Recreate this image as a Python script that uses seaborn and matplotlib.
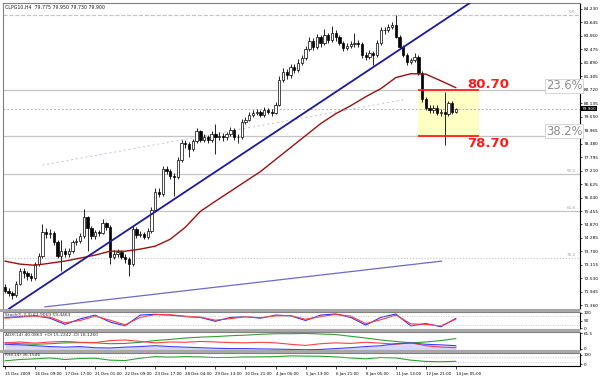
import seaborn as sns
import matplotlib.pyplot as plt
from matplotlib.patches import Rectangle

# chart data
title_text = "CLPG10,H4  79.775 79.950 79.730 79.900"
time_labels = ["15 Dec 2009", "16 Dec 09:00", "17 Dec 17:00", "21 Dec 01:00",
               "22 Dec 09:00", "23 Dec 17:00", "28 Dec 04:00", "29 Dec 13:00",
               "30 Dec 21:00", "4 Jan 05:00", "5 Jan 13:00", "6 Jan 21:00",
               "8 Jan 05:00", "11 Jan 13:00", "12 Jan 21:00", "14 Jan 05:00"]

first_open = 72.15
closes = [72.00, 71.90, 71.80, 72.30, 72.85, 72.75, 72.62, 72.55, 73.15, 73.50,
          74.55, 74.45, 74.50, 74.10, 73.50, 73.70, 73.58, 73.70, 74.10, 74.15,
          74.35, 75.18, 74.70, 74.35, 74.55, 74.50, 74.93, 74.76, 73.45, 73.58,
          73.67, 73.45, 73.36, 73.15, 74.66, 74.40, 74.45, 74.33, 74.58, 75.50,
          76.30, 76.20, 77.26, 77.18, 76.97, 76.92, 77.69, 78.43, 78.35, 78.13,
          78.48, 78.91, 78.56, 78.65, 78.52, 78.82, 78.69, 78.73, 78.65, 78.78,
          78.99, 78.69, 78.65, 79.34, 79.42, 79.64, 79.73, 79.77, 79.64, 79.86,
          79.77, 79.73, 80.07, 81.16, 81.50, 81.35, 81.70, 81.60, 81.90, 82.10,
          82.50, 82.85, 82.60, 83.00, 82.75, 83.10, 82.90, 83.20, 83.00, 82.76,
          82.54, 82.63, 82.72, 82.76, 82.70, 82.24, 82.15, 82.33, 82.24, 82.76,
          83.32, 83.30, 83.45, 83.54, 83.02, 82.59, 82.24, 81.94, 82.02, 82.15,
          81.45, 80.30, 79.95, 79.85, 79.95, 79.73, 79.75, 79.65, 80.15, 79.775,
          79.90]
highs = [72.30, 72.10, 71.98, 72.42, 73.00, 72.98, 72.85, 72.75, 73.25, 73.62,
         74.88, 74.70, 74.68, 74.60, 74.20, 74.20, 73.85, 73.85, 74.20, 74.30,
         74.50, 75.53, 75.25, 74.80, 74.65, 74.62, 75.10, 75.00, 74.85, 73.75,
         73.80, 73.75, 73.60, 73.45, 74.80, 74.75, 74.58, 74.55, 74.70, 75.62,
         76.45, 76.45, 77.40, 77.40, 77.30, 77.10, 77.80, 78.55, 78.55, 78.45,
         78.60, 79.05, 78.98, 78.80, 78.75, 78.95, 79.25, 78.88, 78.85, 78.90,
         79.10, 79.05, 78.80, 79.45, 79.55, 79.75, 79.85, 79.90, 79.85, 79.98,
         79.95, 79.88, 80.18, 81.30, 81.65, 81.62, 81.85, 81.82, 82.05, 82.25,
         82.62, 83.00, 82.95, 83.15, 83.10, 83.35, 83.20, 83.50, 83.30, 83.10,
         82.85, 82.75, 82.85, 83.20, 82.88, 82.80, 82.35, 82.45, 82.40, 82.88,
         83.45, 83.45, 83.58, 83.68, 83.97, 83.10, 82.68, 82.30, 82.12, 82.30,
         82.22, 81.55, 80.40, 80.05, 80.08, 80.05, 79.88, 80.64, 80.25, 80.22,
         79.95]
lows = [71.88, 71.75, 71.62, 71.72, 72.25, 72.55, 72.48, 72.40, 72.45, 73.05,
        73.42, 74.30, 74.30, 74.00, 73.40, 72.85, 73.45, 73.45, 73.62, 74.00,
        74.05, 74.28, 73.70, 74.25, 74.25, 74.38, 74.45, 74.65, 73.15, 73.35,
        73.48, 73.35, 73.20, 72.62, 73.05, 74.30, 74.32, 74.22, 74.25, 74.50,
        75.42, 76.05, 76.10, 77.05, 76.85, 76.10, 76.85, 77.60, 78.20, 77.82,
        78.05, 78.40, 78.45, 78.45, 78.40, 78.45, 77.95, 78.55, 78.50, 78.55,
        78.70, 78.55, 78.40, 78.60, 79.25, 79.35, 79.55, 79.62, 79.52, 79.55,
        79.65, 79.60, 79.65, 80.00, 81.05, 81.20, 81.25, 81.45, 81.50, 81.80,
        82.00, 82.40, 82.45, 82.50, 82.60, 82.65, 82.75, 82.80, 82.85, 82.65,
        82.40, 82.45, 82.55, 82.60, 82.58, 82.10, 82.00, 82.05, 81.80, 82.15,
        82.68, 83.15, 83.22, 83.35, 82.95, 82.50, 82.15, 81.80, 81.85, 81.92,
        81.35, 80.20, 79.85, 79.72, 79.70, 79.62, 79.60, 78.34, 79.58, 79.68,
        79.73]

# moving average and indicators, sampled every 4 bars
sample_bars = list(range(0, 121, 4))
ma_vals = [73.28, 73.15, 73.10, 73.19, 73.28, 73.41, 73.54, 73.71, 73.71, 73.80,
           73.93, 74.23, 74.75, 75.44, 75.88, 76.31, 76.74, 77.17, 77.69, 78.21,
           78.73, 79.25, 79.68, 80.03, 80.42, 80.77, 81.25, 81.42, 81.40, 81.11,
           80.81]
stoch_main = [70, 75, 80, 65, 25, 60, 85, 40, 15, 85, 90, 85, 75, 70, 45, 70,
              75, 65, 85, 80, 50, 85, 92, 70, 20, 70, 92, 15, 30, 10, 64]
stoch_signal = [65, 72, 78, 72, 35, 50, 78, 52, 22, 70, 88, 87, 78, 72, 52, 62,
                74, 68, 80, 82, 58, 75, 90, 78, 30, 55, 85, 28, 25, 15, 59]
adx_main = [25, 22, 20, 22, 25, 26, 25, 22, 23, 27, 33, 37, 42, 45, 47, 50,
            52, 55, 57, 57, 58, 56, 54, 48, 42, 35, 30, 25, 28, 33, 40]
adx_red = [25, 28, 24, 28, 30, 27, 26, 33, 35, 30, 25, 28, 27, 30, 28, 26,
           25, 27, 25, 20, 16, 22, 25, 23, 27, 24, 20, 25, 15, 10, 8]
adx_blue = [20, 18, 15, 12, 10, 12, 8, 7, 10, 12, 15, 12, 10, 8, 6, 5,
            5, 4, 3, 2, 1, 2, 5, 8, 12, 15, 22, 25, 20, 18, 15]
rsi_vals = [40, 50, 55, 62, 50, 58, 60, 45, 42, 60, 72, 68, 72, 70, 65, 66,
            70, 70, 72, 78, 76, 75, 70, 62, 55, 65, 62, 45, 35, 33, 36]

# drawn objects
trend_x, trend_y = [1.0, 123.7], [71.20, 84.49]
trend2_x, trend2_y = [10.6, 116.2], [71.29, 73.28]
diag_x, diag_y = [10, 106], [77.45, 80.29]
fib_names = ["0.0", "23.6", "38.2", "50.0", "61.8", "76.4"]
fib_prices = [83.95, 80.70, 78.70, 77.07, 75.44, 73.43]
fib_styles = ["--", "-", "-", "-", "-", ":"]
bid_price = 79.90
box_top, box_bottom = 80.70, 78.70
ytick_vals = [84.230, 83.645, 83.060, 82.475, 81.890, 81.305, 80.720, 80.135,
              79.550, 78.965, 78.380, 77.795, 77.210, 76.625, 76.040, 75.455,
              74.870, 74.285, 73.700, 73.115, 72.530, 71.945, 71.360]

sns.set_theme(style="white")
plt.rcParams['font.family'] = ['DejaVu Sans']

W, H = 600, 376
fig = plt.figure(figsize=(6, 3.76), dpi=100)
fig.patch.set_facecolor("white")


def box(top, bottom, left=3, right=580):
    return [left / W, 1 - bottom / H, (right - left) / W, (bottom - top) / H]


ax = fig.add_axes(box(3, 309))
ax_st = fig.add_axes(box(312, 329))
ax_adx = fig.add_axes(box(332, 350))
ax_rsi = fig.add_axes(box(353, 366))
xlim = (-0.5, 153)

# --- main price window ---
bars = list(range(len(closes)))
opens = [first_open] + closes[:-1]

ax.add_patch(Rectangle((109.8, box_bottom), 16.2, box_top - box_bottom,
                       facecolor="#ffffc4", edgecolor="none", zorder=0.5))

for name, p, ls in zip(fib_names, fib_prices, fib_styles):
    ax.axhline(p, color="#c4c4c4", lw=0.9 if ls == "-" else 0.8, ls=ls, zorder=1)
    if name not in ("23.6", "38.2"):
        ax.text(151.8, p + 0.05, name, fontsize=3.0, color="#a0a0a0",
                ha="right", va="bottom")
ax.axhline(bid_price, color="#b0b0b0", lw=0.7, ls=(0, (2, 2)), zorder=1)
sns.lineplot(x=diag_x, y=diag_y, ax=ax, color="#c0c0d8", lw=0.7,
             linestyle=(0, (2, 3)), zorder=1)

ax.vlines(bars, lows, highs, color="black", lw=0.6, zorder=3)
for i, o, c in zip(bars, opens, closes):
    bull = c >= o
    ax.bar(i, max(abs(c - o), 0.012), bottom=min(o, c), width=0.62,
           color="white" if bull else "black", edgecolor="black",
           linewidth=0.5, zorder=4)

sns.lineplot(x=sample_bars, y=ma_vals, ax=ax, color="#9b1010", lw=1.0, zorder=5)
sns.lineplot(x=trend_x, y=trend_y, ax=ax, color="#1a1a9c", lw=1.3, zorder=5)
sns.lineplot(x=trend2_x, y=trend2_y, ax=ax, color="#6a6ad0", lw=0.9, zorder=5)

ax.hlines([box_top, box_bottom], 109.8, 126, color="#ff2020", lw=1.3, zorder=6)
ax.text(123.1, 80.93, "80.70", color="#ff1a1a", fontsize=9.5,
        fontweight="bold", va="center", ha="left", zorder=7)
ax.text(123.1, 78.40, "78.70", color="#ff1a1a", fontsize=9.5,
        fontweight="bold", va="center", ha="left", zorder=7)
for txt, p in (("23.6%", 80.89), ("38.2%", 78.93)):
    ax.text(143.9, p, txt, color="#8c8c8c", fontsize=8.3, va="center",
            ha="left", zorder=7,
            bbox=dict(facecolor="white", edgecolor="#cfcfcf", pad=0.6, lw=0.6))

ax.text(0.004, 0.995, title_text, transform=ax.transAxes, fontsize=3.4,
        color="#202020", va="top", ha="left")

ax.set_xlim(xlim)
ax.set_ylim(71.20, 84.49)
ax.set_xticks([])
ax.yaxis.tick_right()
ax.set_yticks(ytick_vals)
ax.set_yticklabels([f"{v:.3f}" for v in ytick_vals])
ax.tick_params(axis="y", labelsize=3.1, length=1.5, width=0.5, pad=1,
               colors="black", right=True)
ax.text(1.0025, bid_price, "79.900", transform=ax.get_yaxis_transform(),
        fontsize=3.1, color="white", va="center", ha="left",
        bbox=dict(facecolor="black", edgecolor="none", pad=0.5))
ax.set_xlabel("")
ax.set_ylabel("")

# --- stochastic ---
sns.lineplot(x=sample_bars, y=stoch_main, ax=ax_st, color="#3030ff", lw=0.8)
sns.lineplot(x=sample_bars, y=stoch_signal, ax=ax_st, color="#ff3a3a", lw=0.8)
for lv in (20, 80):
    ax_st.axhline(lv, color="#b8b8b8", lw=0.5, ls=(0, (1.5, 2)))
ax_st.set_ylim(-5, 105)
ax_st.text(0.004, 0.97, "Stoch(5,3,3) 63.9069 59.4463", transform=ax_st.transAxes,
           fontsize=3.2, color="#303030", va="top")
ax_st.set_yticks([100, 50, 0])

# --- ADX ---
sns.lineplot(x=sample_bars, y=adx_main, ax=ax_adx, color="#30a030", lw=0.8)
sns.lineplot(x=sample_bars, y=adx_red, ax=ax_adx, color="#ff4040", lw=0.8)
sns.lineplot(x=sample_bars, y=adx_blue, ax=ax_adx, color="#4040ff", lw=0.8)
ax_adx.fill_between(sample_bars, 0, adx_blue, color="#b0b0ff", alpha=0.5, lw=0)
ax_adx.set_ylim(0, 63)
ax_adx.text(0.004, 0.97, "ADX(14) 40.0863 +DI 15.2242 -DI 18.1260",
            transform=ax_adx.transAxes, fontsize=3.2, color="#303030", va="top")
ax_adx.set_yticks([58, 4])
ax_adx.set_yticklabels(["61.5", "0"])

# --- RSI ---
sns.lineplot(x=sample_bars, y=rsi_vals, ax=ax_rsi, color="#30a030", lw=0.8)
for lv in (30, 70):
    ax_rsi.axhline(lv, color="#b8b8b8", lw=0.5, ls=(0, (1.5, 2)))
ax_rsi.set_ylim(0, 100)
ax_rsi.text(0.004, 0.97, "RSI(14) 36.1546", transform=ax_rsi.transAxes,
            fontsize=3.2, color="#303030", va="top")
ax_rsi.set_yticks([88, 12])
ax_rsi.set_yticklabels(["100", "0"])

for a in (ax_st, ax_adx, ax_rsi):
    a.set_xlim(xlim)
    a.yaxis.tick_right()
    a.tick_params(axis="y", labelsize=3.0, length=1.5, width=0.5, pad=1,
                  colors="black", right=True)
    a.set_xlabel("")
    a.set_ylabel("")
    a.set_xticks([])

ax_rsi.set_xticks(list(range(0, 121, 8)))
ax_rsi.set_xticklabels(time_labels, ha="left")
ax_rsi.tick_params(axis="x", labelsize=2.9, length=2.5, width=0.5, pad=1.5,
                   colors="black", bottom=True)

for a in (ax, ax_st, ax_adx, ax_rsi):
    for side, sp in a.spines.items():
        sp.set_linewidth(0.8)
        sp.set_color("#808080")
    a.spines["right"].set_color("black")
    a.set_facecolor("white")
    leg = a.get_legend()
    if leg:
        leg.remove()
ax_rsi.spines["bottom"].set_color("black")

# gray separators between the windows
for top_px in (309, 329, 350):
    fig.add_artist(Rectangle((0, 1 - (top_px + 3) / H), 580 / W, 3 / H,
                             transform=fig.transFigure, facecolor="#a8a8a8",
                             edgecolor="none"))

fig.savefig("out.png", dpi=100)
